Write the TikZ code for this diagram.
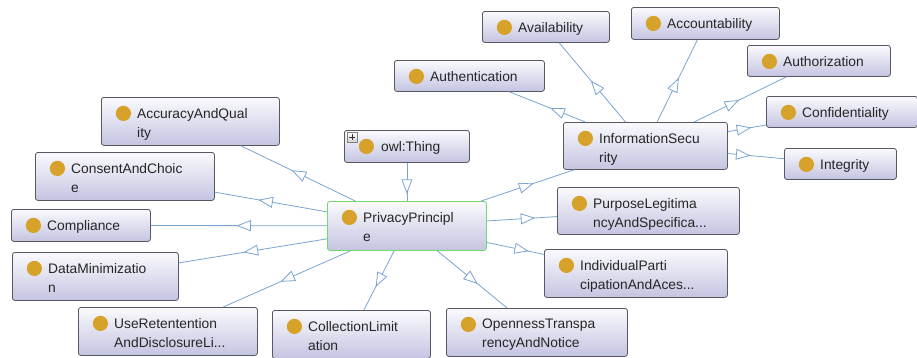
\documentclass[tikz,border=0pt]{standalone}
\usepackage{fontspec}
\setmainfont{Liberation Sans}
\usetikzlibrary{decorations.markings, positioning}

\definecolor{dotgold}{RGB}{214,162,42}
\definecolor{edgeblue}{RGB}{122,164,208}
\definecolor{boxtop}{RGB}{250,250,253}
\definecolor{boxbot}{RGB}{196,196,226}
\definecolor{boxline}{RGB}{88,88,100}
\definecolor{selgreen}{RGB}{112,218,112}

\tikzset{
  cls/.style 2 args={draw=boxline, line width=0.8pt, rounded corners=2.5pt,
    top color=boxtop, bottom color=boxbot, anchor=north west, inner sep=0pt,
    minimum width=#1pt, minimum height=#2pt,
    path picture={\fill[dotgold] ([shift={(22pt,-16pt)}]path picture bounding box.north west) circle (7.6pt);}},
  txt/.style={anchor=north west, align=left, inner sep=0pt, text=black!85,
    font=\fontsize{13.8}{19}\selectfont},
  plusbox/.style={draw=gray, line width=0.6pt, anchor=north west, inner sep=0pt,
    minimum size=10pt, top color=white, bottom color=gray!35,
    path picture={\draw[black!80, line width=1.1pt]
      ([xshift=-3pt]path picture bounding box.center) -- ([xshift=3pt]path picture bounding box.center)
      ([yshift=-3pt]path picture bounding box.center) -- ([yshift=3pt]path picture bounding box.center);}},
  edge/.style={draw=edgeblue, line width=0.8pt},
  mid/.style={decoration={markings, mark=at position 0.5 with
    {\draw[edgeblue, line width=0.8pt, fill=white] (6.5pt,0pt) -- (-6.5pt,5pt) -- (-6.5pt,-5pt) -- cycle;}},
    decorate}
}

\begin{document}
\begin{tikzpicture}[x=1pt, y=-1pt]
        \useasboundingbox (0,0) rectangle (917,357);

        % top class and the root of the principles
        \node[cls={125}{32}] at (344, 130) (thing) {};
        \node[plusbox] at (347, 132) (thingplus) {};
        \node[cls={159}{49}, draw=selgreen] at (327, 201) (pp) {};

        % subclasses of PrivacyPrinciple
        \node[cls={178}{48}] at (101, 97)  (aq) {};
        \node[cls={179}{48}] at (35, 152)  (consent) {};
        \node[cls={139}{32}] at (11, 209)  (compl) {};
        \node[cls={166}{48}] at (12, 252)  (datamin) {};
        \node[cls={179}{48}] at (78, 307)  (useret) {};
        \node[cls={158}{48}] at (272, 310) (coll) {};
        \node[cls={181}{48}] at (446, 308) (open) {};
        \node[cls={183}{48}] at (544, 249) (indiv) {};
        \node[cls={182}{47}] at (557, 187) (purpose) {};
        \node[cls={164}{47}] at (563, 122) (infosec) {};

        % subclasses of InformationSecurity
        \node[cls={150}{31}] at (394, 60)  (authn) {};
        \node[cls={127}{31}] at (482, 11)  (avail) {};
        \node[cls={148}{32}] at (631, 7)   (account) {};
        \node[cls={143}{31}] at (747, 45)  (authz) {};
        \node[cls={151}{31}] at (766, 96)  (conf) {};
        \node[cls={112}{31}] at (784, 148) (integ) {};

        % labels
        \node[txt] at ([shift={(37,11)}]thing.north west) (thingt) {owl:Thing};
        \node[txt] at ([shift={(36,11)}]pp.north west) (ppt) {PrivacyPrincipl\\e};
        \node[txt] at ([shift={(36,11)}]aq.north west) (aqt) {AccuracyAndQual\\ity};
        \node[txt] at ([shift={(36,11)}]consent.north west) (consentt) {ConsentAndChoic\\e};
        \node[txt] at ([shift={(36,11)}]compl.north west) (complt) {Compliance};
        \node[txt] at ([shift={(36,11)}]datamin.north west) (dataminnt) {DataMinimizatio\\n};
        \node[txt] at ([shift={(36,11)}]useret.north west) (usert) {UseRetentention\\AndDisclosureLi...};
        \node[txt] at ([shift={(36,11)}]coll.north west) (collt) {CollectionLimit\\ation};
        \node[txt] at ([shift={(36,11)}]open.north west) (opent) {OpennessTranspa\\rencyAndNotice};
        \node[txt] at ([shift={(36,11)}]indiv.north west) (indivt) {IndividualParti\\cipationAndAces...};
        \node[txt] at ([shift={(36,11)}]purpose.north west) (purposet) {PurposeLegitima\\ncyAndSpecifica...};
        \node[txt] at ([shift={(36,11)}]infosec.north west) (infosect) {InformationSecu\\rity};
        \node[txt] at ([shift={(36,11)}]authn.north west) (authnt) {Authentication};
        \node[txt] at ([shift={(36,11)}]avail.north west) (availt) {Availability};
        \node[txt] at ([shift={(36,11)}]account.north west) (accountt) {Accountability};
        \node[txt] at ([shift={(36,11)}]authz.north west) (authzt) {Authorization};
        \node[txt] at ([shift={(36,11)}]conf.north west) (conft) {Confidentiality};
        \node[txt] at ([shift={(36,11)}]integ.north west) (integt) {Integrity};

        % is-a links, open triangle half way between the centres
        \draw[edge] (thing) -- (pp);     \path[mid] (thing.center) -- (pp.center);
        \draw[edge] (pp) -- (aq);        \path[mid] (pp.center) -- (aq.center);
        \draw[edge] (pp) -- (consent);   \path[mid] (pp.center) -- (consent.center);
        \draw[edge] (pp) -- (compl);     \path[mid] (pp.center) -- (compl.center);
        \draw[edge] (pp) -- (datamin);   \path[mid] (pp.center) -- (datamin.center);
        \draw[edge] (pp) -- (useret);    \path[mid] (pp.center) -- (useret.center);
        \draw[edge] (pp) -- (coll);      \path[mid] (pp.center) -- (coll.center);
        \draw[edge] (pp) -- (open);      \path[mid] (pp.center) -- (open.center);
        \draw[edge] (pp) -- (indiv);     \path[mid] (pp.center) -- (indiv.center);
        \draw[edge] (pp) -- (purpose);   \path[mid] (pp.center) -- (purpose.center);
        \draw[edge] (pp) -- (infosec);   \path[mid] (pp.center) -- (infosec.center);
        \draw[edge] (infosec) -- (authn);   \path[mid] (infosec.center) -- (authn.center);
        \draw[edge] (infosec) -- (avail);   \path[mid] (infosec.center) -- (avail.center);
        \draw[edge] (infosec) -- (account); \path[mid] (infosec.center) -- (account.center);
        \draw[edge] (infosec) -- (authz);   \path[mid] (infosec.center) -- (authz.center);
        \draw[edge] (infosec) -- (conf);    \path[mid] (infosec.center) -- (conf.center);
        \draw[edge] (infosec) -- (integ);   \path[mid] (infosec.center) -- (integ.center);
    \end{tikzpicture}
\end{document}
